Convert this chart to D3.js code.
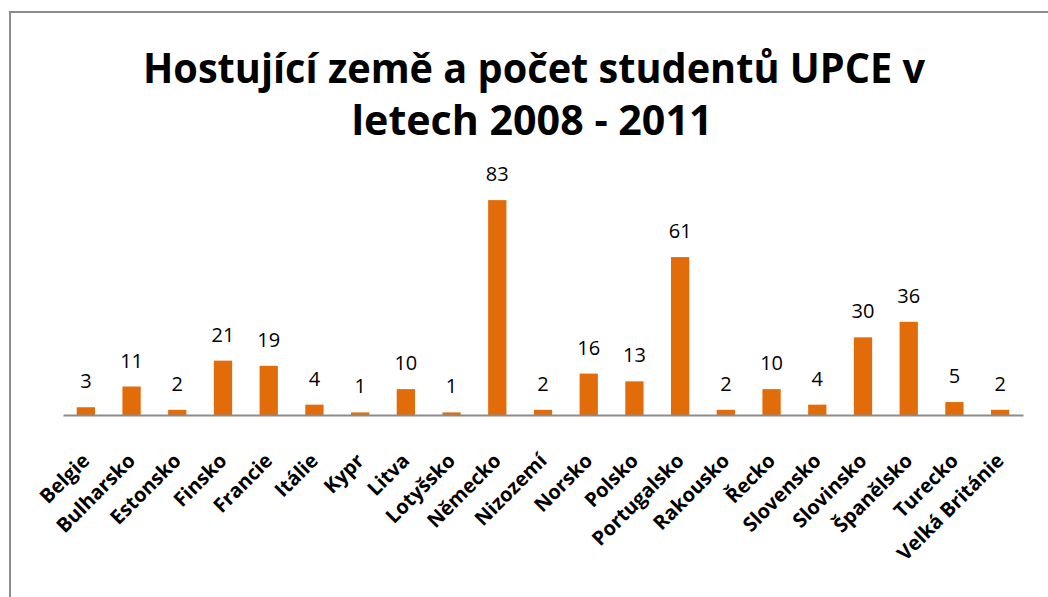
<!DOCTYPE html>
<html lang="cs">
<head>
<meta charset="utf-8">
<script src="https://d3js.org/d3.v7.min.js"></script>
<style>
    body { margin: 0; background: #fff; }
    svg { display: block; }
</style>
</head>
<body>
<div id="chart"></div>
<script>
    var countries = ["Belgie", "Bulharsko", "Estonsko", "Finsko", "Francie", "Itálie", "Kypr", "Litva",
        "Lotyšsko", "Německo", "Nizozemí", "Norsko", "Polsko", "Portugalsko", "Rakousko", "Řecko",
        "Slovensko", "Slovinsko", "Španělsko", "Turecko", "Velká Británie"];
    var students = [3, 11, 2, 21, 19, 4, 1, 10, 1, 83, 2, 16, 13, 61, 2, 10, 4, 30, 36, 5, 2];
    var titleLines = ["Hostující země a počet studentů UPCE v", "letech 2008 - 2011"];

    var W = 1048, H = 597;
    var plot = { left: 63, right: 1023, top: 182, bottom: 415 };

    var svg = d3.select("#chart").append("svg")
        .attr("width", W)
        .attr("height", H);

    // chart area frame (runs off the right and bottom edge)
    svg.append("rect")
        .attr("x", 10).attr("y", 12)
        .attr("width", 1200).attr("height", 800)
        .attr("fill", "#fff")
        .attr("stroke", "#8c8c8c")
        .attr("stroke-width", 2);

    // title, squeezed to the narrow look of the original
    var title = svg.append("g")
        .style("font-family", "'Open Sans', sans-serif")
        .style("font-weight", "bold")
        .style("font-size", "42px")
        .attr("fill", "#000");
    title.append("text").attr("x", 534).attr("y", 83)
        .attr("text-anchor", "middle")
        .attr("textLength", 782).attr("lengthAdjust", "spacingAndGlyphs")
        .text(titleLines[0]);
    title.append("text").attr("x", 532).attr("y", 135)
        .attr("text-anchor", "middle")
        .attr("textLength", 361).attr("lengthAdjust", "spacingAndGlyphs")
        .text(titleLines[1]);

    var data = countries.map(function (c, i) { return { name: c, val: students[i] }; });

    var x = d3.scaleBand()
        .domain(countries)
        .range([plot.left, plot.right])
        .paddingInner(0.6)
        .paddingOuter(0.3);

    var y = d3.scaleLinear()
        .domain([0, 90])
        .range([plot.bottom, plot.top]);

    svg.selectAll("rect.bar")
        .data(data)
        .enter()
        .append("rect")
        .attr("class", "bar")
        .attr("x", function (d) { return x(d.name); })
        .attr("y", function (d) { return y(d.val); })
        .attr("width", x.bandwidth())
        .attr("height", function (d) { return y(0) - y(d.val); })
        .attr("fill", "#E36C0A");

    svg.selectAll("text.val")
        .data(data)
        .enter()
        .append("text")
        .attr("class", "val")
        .attr("x", function (d) { return x(d.name) + x.bandwidth() / 2; })
        .attr("y", function (d) { return y(d.val) - 19; })
        .attr("text-anchor", "middle")
        .style("font-family", "'Open Sans', sans-serif")
        .style("font-size", "20px")
        .attr("fill", "#000")
        .text(function (d) { return d.val; });

    // x axis
    var xAxis = svg.append("g")
        .attr("transform", "translate(0," + plot.bottom + ")")
        .call(d3.axisBottom(x).tickSize(0).tickPadding(0));
    xAxis.select(".domain").attr("stroke", "#8c8c8c").attr("stroke-width", 2);
    xAxis.selectAll(".tick text")
        .style("font-family", "'Open Sans', sans-serif")
        .style("font-size", "20px")
        .style("font-weight", "bold")
        .attr("fill", "#000")
        .attr("text-anchor", "end")
        .attr("dy", 0)
        .attr("y", 0)
        .attr("transform", "translate(5,47) rotate(-45)");
</script>
</body>
</html>
